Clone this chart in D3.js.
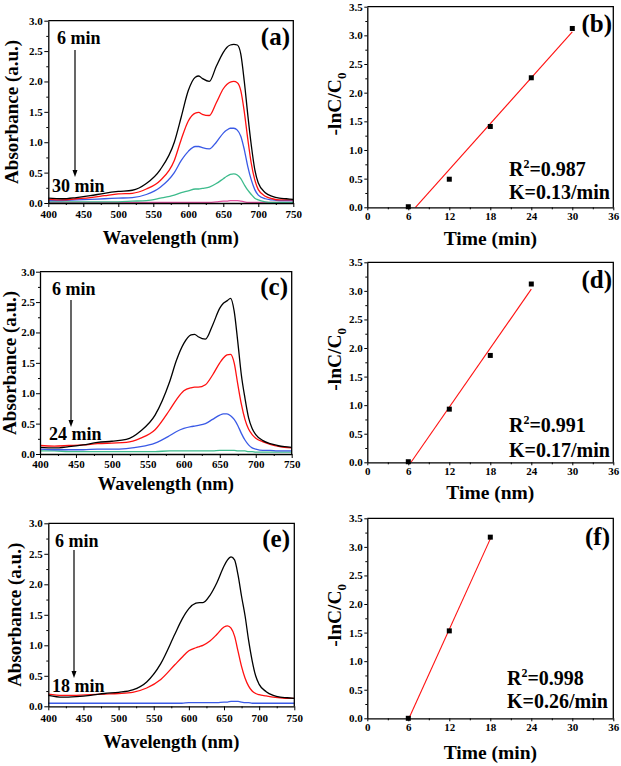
<!DOCTYPE html>
<html><head><meta charset="utf-8">
<script src="https://cdn.jsdelivr.net/npm/d3@7"></script>
<style>
body{margin:0;background:#fff}
svg text{font-family:"Liberation Serif","Times New Roman",serif;font-weight:bold;fill:#000}
</style></head><body>
<svg id="fig" width="621" height="766"></svg>
<script>
// ---------- DATA ----------
const wavelengths = [400,420,440,460,480,500,520,540,560,580,590,600,610,615,620,630,640,650,655,660,665,670,675,680,685,690,695,700,710,720,730,740,750];

// panel (a): 6,12,18,24,30 min
const a06 = [.08,.07,.09,.12,.16,.19,.21,.32,.55,1.00,1.42,1.85,2.07,2.09,2.05,2.00,2.25,2.48,2.56,2.60,2.61,2.60,2.45,2.00,1.45,.95,.55,.33,.17,.11,.08,.07,.06];
const a12 = [.06,.05,.07,.09,.12,.15,.16,.23,.37,.70,1.05,1.35,1.48,1.49,1.46,1.44,1.65,1.88,1.95,1.99,2.00,1.98,1.85,1.50,1.05,.65,.38,.22,.11,.07,.05,.05,.05];
const a18 = [.04,.04,.05,.06,.07,.08,.09,.14,.26,.50,.70,.85,.93,.93,.91,.89,1.00,1.15,1.20,1.23,1.23,1.20,1.10,.88,.60,.38,.22,.13,.07,.05,.04,.04,.04];
const a24 = [.02,.02,.02,.02,.02,.02,.03,.04,.08,.13,.17,.20,.23,.23,.24,.26,.32,.40,.44,.47,.48,.46,.40,.30,.21,.14,.08,.05,.02,.01,.01,.01,.01];
const a30 = [.01,.01,.01,.01,.01,.01,.01,.01,.01,.01,.01,.01,.01,.01,.01,.01,.02,.03,.03,.04,.04,.04,.03,.02,.01,.01,.01,.01,.01,.01,.01,.01,.01];

// panel (c): 6,12,18,24 min
const c06 = [.11,.10,.12,.15,.19,.21,.24,.38,.64,1.18,1.55,1.82,1.96,1.97,1.93,1.89,2.12,2.40,2.48,2.52,2.56,2.35,1.85,1.30,.92,.60,.42,.32,.22,.17,.14,.12,.11];
const c12 = [.14,.13,.14,.15,.17,.18,.19,.26,.40,.72,.90,1.04,1.09,1.10,1.10,1.14,1.30,1.50,1.58,1.63,1.64,1.50,1.15,.82,.57,.41,.32,.26,.20,.16,.13,.11,.10];
const c18 = [.08,.07,.07,.07,.08,.08,.09,.12,.18,.30,.37,.42,.45,.46,.47,.50,.57,.64,.66,.66,.63,.57,.47,.34,.23,.15,.10,.08,.06,.06,.05,.05,.05];
const c24 = [.05,.05,.04,.04,.04,.04,.04,.04,.04,.05,.05,.05,.05,.05,.05,.05,.05,.06,.06,.06,.06,.06,.05,.05,.05,.04,.04,.03,.03,.03,.03,.03,.03];

// panel (e): 6,12,18 min
const e06 = [.18,.15,.16,.18,.21,.23,.27,.40,.70,1.18,1.42,1.60,1.69,1.70,1.70,1.82,2.03,2.30,2.40,2.45,2.40,2.15,1.80,1.48,1.08,.75,.50,.36,.24,.18,.15,.14,.13];
const e12 = [.20,.18,.18,.19,.20,.21,.23,.30,.44,.68,.80,.91,.96,.98,1.00,1.07,1.18,1.30,1.32,1.28,1.15,.90,.65,.46,.33,.25,.21,.19,.17,.15,.14,.13,.13];
const e18 = [.05,.05,.05,.05,.05,.05,.05,.05,.05,.05,.05,.06,.06,.06,.06,.06,.06,.07,.07,.08,.08,.08,.07,.06,.06,.05,.05,.05,.05,.05,.05,.05,.05];

// kinetics
const timeB = [6,12,18,24,30];  const lnB = [0.01,0.49,1.41,2.26,3.12];
const fitB = [[7.05,0],[30,3.06]];
const timeD = [6,12,18,24];     const lnD = [0.01,0.93,1.87,3.12];
const fitD = [[6.4,0],[24,3.03]];
const timeF = [6,12,18];        const lnF = [0.0,1.53,3.17];
const fitF = [[6.1,0],[18,3.14]];

const specXTicks = [400,450,500,550,600,650,700,750];
const specYTicks = [0,0.5,1.0,1.5,2.0,2.5,3.0];
const kinXTicks = [0,6,12,18,24,30,36];
const kinYTicks = [0,0.5,1.0,1.5,2.0,2.5,3.0,3.5];

// ---------- DRAW ----------
const svg = d3.select('#fig');
svg.append('rect').attr('width',621).attr('height',766).attr('fill','#fff');

const COLORS = {black:'#000000', red:'#ff1010', blue:'#3a5ae6', green:'#3dbb8c', magenta:'#e0509e'};

function styleAxis(g){
  g.select('.domain').attr('stroke','#000').attr('stroke-width',1.3);
  g.selectAll('.tick line').attr('stroke','#000').attr('stroke-width',1);
  g.selectAll('.tick text').attr('font-size',11).attr('font-family','"Liberation Serif",serif').attr('font-weight','bold').attr('fill','#000');
}

function drawAxes(x, y, L, R, T, B, xt, xminor, yt, yminor, xfmt, yfmt, tsz, xpad, ypad){
  const gx = svg.append('g').attr('transform',`translate(0,${B})`)
    .call(d3.axisBottom(x).tickValues(xt).tickSize(tsz).tickPadding(xpad).tickSizeOuter(0).tickFormat(xfmt));
  styleAxis(gx);
  const gxm = svg.append('g').attr('transform',`translate(0,${B})`)
    .call(d3.axisBottom(x).tickValues(xminor).tickSize(2).tickSizeOuter(0).tickFormat(''));
  gxm.select('.domain').remove(); styleAxis(gxm);
  const gy = svg.append('g').attr('transform',`translate(${L},0)`)
    .call(d3.axisLeft(y).tickValues(yt).tickSize(tsz).tickPadding(ypad).tickSizeOuter(0).tickFormat(yfmt));
  styleAxis(gy);
  const gym = svg.append('g').attr('transform',`translate(${L},0)`)
    .call(d3.axisLeft(y).tickValues(yminor).tickSize(2).tickSizeOuter(0).tickFormat(''));
  gym.select('.domain').remove(); styleAxis(gym);
  svg.append('path').attr('d',`M${L},${T}H${R}V${B}`).attr('fill','none').attr('stroke','#000').attr('stroke-width',1.3);
}

function spectrum(cfg){
  const x = d3.scaleLinear().domain([400,750]).range([cfg.L,cfg.R]);
  const y = d3.scaleLinear().domain([0,3]).range([cfg.B,cfg.T]);
  const line = d3.line().x((d,i)=>x(wavelengths[i])).y(d=>y(d)).curve(d3.curveMonotoneX);
  cfg.series.slice().reverse().forEach(s=>{
    svg.append('path').attr('d',line(s.v)).attr('fill','none').attr('stroke',s.c).attr('stroke-width',1.3);
  });
  drawAxes(x,y,cfg.L,cfg.R,cfg.T,cfg.B,specXTicks,d3.range(425,750,50),specYTicks,d3.range(0.25,3,0.5),d=>d,d3.format('.1f'),4,cfg.xpad,cfg.ypad);
  svg.append('text').attr('x',(cfg.L+cfg.R)/2).attr('y',cfg.titleY).attr('text-anchor','middle').attr('font-size',18.5).text('Wavelength (nm)');
  svg.append('text').attr('transform',`translate(${cfg.ytX},${(cfg.T+cfg.B)/2}) rotate(-90)`).attr('text-anchor','middle').attr('font-size',19).text('Absorbance (a.u.)');
  svg.append('text').attr('x',cfg.tagX).attr('y',cfg.tagY).attr('text-anchor','end').attr('font-size',25).text(cfg.tag);
  svg.append('text').attr('x',cfg.s1X).attr('y',cfg.s1Y).attr('font-size',18).text('6 min');
  svg.append('text').attr('x',cfg.s2X).attr('y',cfg.s2Y).attr('font-size',18).text(cfg.endText);
  svg.append('line').attr('x1',cfg.arX).attr('x2',cfg.arX).attr('y1',cfg.arY1).attr('y2',cfg.arY2-5).attr('stroke','#000').attr('stroke-width',1.2);
  svg.append('path').attr('d',`M${cfg.arX-2.5},${cfg.arY2-7}L${cfg.arX+2.5},${cfg.arY2-7}L${cfg.arX},${cfg.arY2}Z`).attr('fill','#000');
}

function kinetics(cfg){
  const x = d3.scaleLinear().domain([0,36]).range([cfg.L,cfg.R]);
  const y = d3.scaleLinear().domain([0,3.5]).range([cfg.B,cfg.T]);
  svg.append('path').attr('d',d3.line().x(d=>x(d[0])).y(d=>y(d[1]))(cfg.fit)).attr('stroke','#ff1010').attr('stroke-width',1.1).attr('fill','none');
  cfg.t.forEach((t,i)=>{
    svg.append('rect').attr('x',x(t)-2.5).attr('y',y(cfg.v[i])-2.5).attr('width',5).attr('height',5).attr('fill','#000');
  });
  drawAxes(x,y,cfg.L,cfg.R,cfg.T,cfg.B,kinXTicks,d3.range(3,36,6),kinYTicks,d3.range(0.25,3.5,0.5),d=>d,d3.format('.1f'),3,1.5,1.5);
  svg.append('text').attr('x',(cfg.L+cfg.R)/2).attr('y',cfg.titleY).attr('text-anchor','middle').attr('font-size',19.5).text(cfg.xTitle);
  const yt = svg.append('text').attr('transform',`translate(341,${(cfg.T+cfg.B)/2-3}) rotate(-90)`).attr('text-anchor','middle').attr('font-size',19.5);
  yt.append('tspan').text('-lnC/C');
  yt.append('tspan').attr('font-size',13).attr('dy',5).text('0');
  svg.append('text').attr('x',cfg.tagX).attr('y',cfg.tagY).attr('text-anchor','end').attr('font-size',25).text(cfg.tag);
  const r = svg.append('text').attr('x',cfg.txX).attr('y',cfg.r2Y).attr('font-size',20);
  r.append('tspan').text('R');
  r.append('tspan').attr('font-size',12).attr('dy',-8).text('2');
  r.append('tspan').attr('dy',8).text('=' + cfg.r2);
  svg.append('text').attr('x',cfg.txX).attr('y',cfg.kY).attr('font-size',20).text('K=' + cfg.k + '/min');
}

spectrum({L:48.3,R:293.3,T:20.7,B:203,xpad:3,ypad:1.5,titleY:244,ytX:17.5,tag:'(a)',tagX:290,tagY:45,
  s1X:57,s1Y:44,s2X:52,s2Y:192,endText:'30 min',arX:75,arY1:50,arY2:177,
  series:[{v:a06,c:COLORS.black},{v:a12,c:COLORS.red},{v:a18,c:COLORS.blue},{v:a24,c:COLORS.green},{v:a30,c:COLORS.magenta}]});
spectrum({L:40,R:291.7,T:271.7,B:454,xpad:2,ypad:1,titleY:490,ytX:16,tag:'(c)',tagX:288,tagY:295,
  s1X:52,s1Y:295,s2X:49,s2Y:440,endText:'24 min',arX:71,arY1:300,arY2:427,
  series:[{v:c06,c:COLORS.black},{v:c12,c:COLORS.red},{v:c18,c:COLORS.blue},{v:c24,c:COLORS.green}]});
spectrum({L:48.3,R:294.3,T:523.3,B:706.3,xpad:3.5,ypad:1.5,titleY:748,ytX:21,tag:'(e)',tagX:290,tagY:547,
  s1X:55,s1Y:547,s2X:52,s2Y:692,endText:'18 min',arX:74,arY1:550,arY2:678,
  series:[{v:e06,c:COLORS.black},{v:e12,c:COLORS.red},{v:e18,c:COLORS.blue}]});

kinetics({L:367.3,R:613.3,T:6.7,B:207.3,t:timeB,v:lnB,fit:fitB,titleY:245,xTitle:'Time (min)',tag:'(b)',tagX:612,tagY:32,txX:509,r2Y:176,r2:'0.987',kY:199,k:'0.13'});
kinetics({L:367.3,R:613.3,T:262.3,B:462.3,t:timeD,v:lnD,fit:fitD,titleY:499,xTitle:'Time (nm)',tag:'(d)',tagX:612,tagY:287.5,txX:509,r2Y:432,r2:'0.991',kY:457,k:'0.17'});
kinetics({L:367.3,R:613.3,T:518.3,B:718.3,t:timeF,v:lnF,fit:fitF,titleY:759,xTitle:'Time (min)',tag:'(f)',tagX:610,tagY:545,txX:507,r2Y:685,r2:'0.998',kY:708,k:'0.26'});
</script>
</body></html>
